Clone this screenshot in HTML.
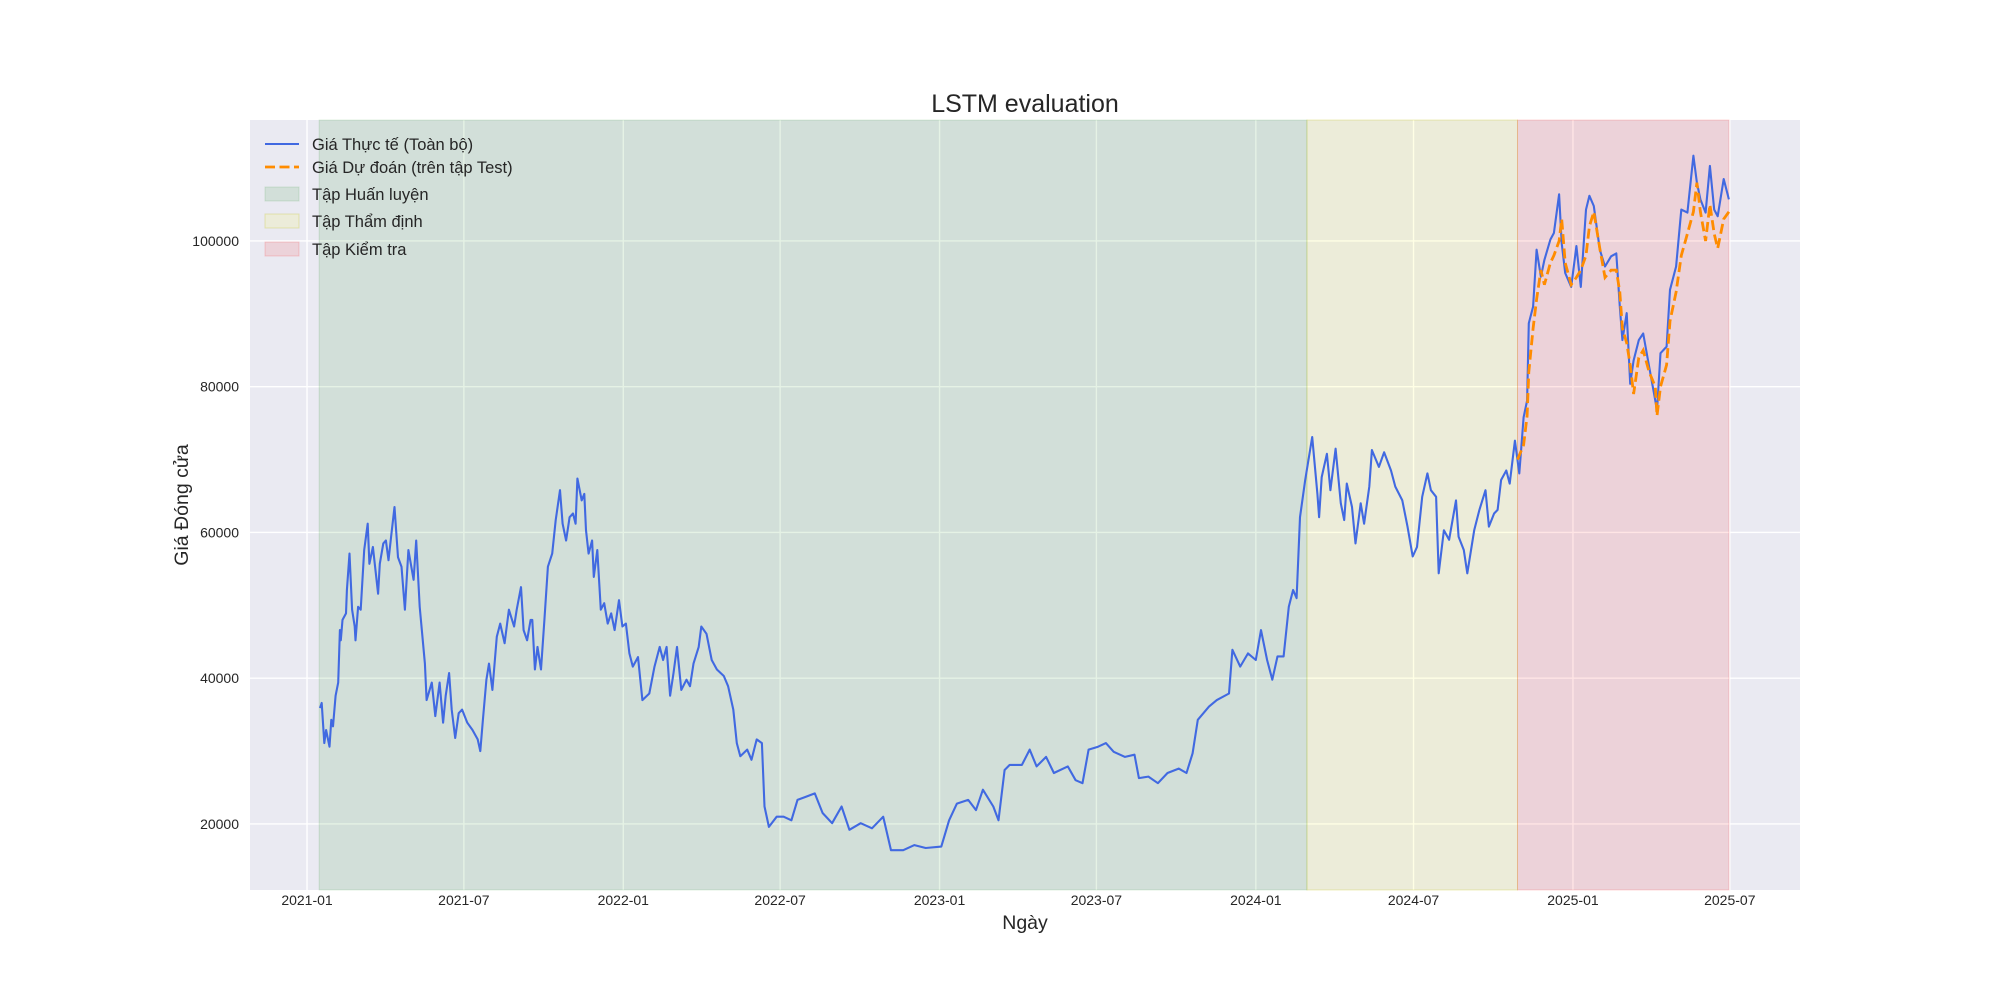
<!DOCTYPE html>
<html><head><meta charset="utf-8"><style>
html,body{margin:0;padding:0;background:#fff;}
svg{display:block;font-family:"Liberation Sans","DejaVu Sans",sans-serif;}
</style></head><body>
<svg id="chart" width="2000" height="1000" viewBox="0 0 2000 1000" xmlns="http://www.w3.org/2000/svg">
<rect x="0" y="0" width="2000" height="1000" fill="#ffffff"/>
<g id="plot"></g>
</svg>
<script>
// ---- data (days since 2021-01-01, price in thousands) ----
const actualDays = [15,17,20,22,26,28,30,33,36,38,39,41,45,46,49,52,55,56,59,62,66,70,72,76,82,84,88,91,94,97,101,105,109,113,117,123,126,130,136,138,144,148,153,157,160,164,167,171,175,179,185,191,197,200,203,207,210,214,219,223,228,233,239,242,247,250,254,258,260,263,266,270,274,278,283,287,292,295,299,303,307,310,312,317,320,322,325,329,331,335,339,343,347,351,355,360,364,368,372,376,382,387,395,401,407,411,415,419,423,427,432,438,442,446,452,455,461,467,473,481,486,492,496,500,508,513,519,525,528,533,542,550,559,566,575,586,595,606,617,626,639,652,665,674,688,701,714,732,741,750,763,772,780,792,798,805,811,825,834,842,853,862,878,887,895,902,913,922,931,944,955,960,971,982,993,1006,1015,1022,1028,1041,1050,1064,1068,1077,1086,1095,1101,1108,1114,1120,1127,1133,1138,1142,1146,1152,1160,1166,1168,1171,1177,1181,1187,1193,1197,1200,1206,1210,1216,1220,1226,1229,1237,1243,1251,1256,1264,1270,1276,1281,1287,1293,1297,1303,1306,1312,1318,1326,1329,1335,1339,1347,1353,1360,1364,1370,1374,1378,1384,1388,1394,1399,1404,1408,1410,1415,1419,1424,1428,1435,1439,1445,1448,1452,1459,1465,1470,1476,1480,1485,1492,1498,1505,1511,1515,1518,1523,1527,1531,1537,1542,1549,1556,1558,1562,1569,1573,1580,1586,1593,1600,1604,1608,1614,1619,1624,1628,1635,1641];
const actualValues = [35.9,36.6,31.1,32.9,30.6,34.3,33.4,37.6,39.4,46.6,45.2,48,48.9,52.1,57.1,49.4,47.1,45.2,49.8,49.4,57.6,61.2,55.7,58,51.6,55.7,58.5,58.9,56.2,59.4,63.5,56.6,55.3,49.4,57.6,53.5,58.9,49.8,42,37,39.4,34.8,39.4,33.9,37.6,40.7,35.7,31.8,35.2,35.7,33.9,32.9,31.6,30,34.3,39.8,42,38.4,45.7,47.5,44.8,49.4,47.1,49.4,52.5,46.6,45.2,48,48,41.2,44.3,41.2,48,55.3,57.1,61.7,65.8,61.2,58.9,62.1,62.6,61.2,67.4,64.4,65.3,60.3,57.1,58.9,53.9,57.6,49.4,50.3,47.5,48.9,46.6,50.7,47.1,47.5,43.4,41.6,42.9,37,37.9,41.6,44.3,42.5,44.3,37.6,40.7,44.3,38.4,39.8,38.9,42,44.3,47.1,46.1,42.5,41.2,40.3,38.9,35.7,31.1,29.3,30.2,28.8,31.6,31.1,22.4,19.6,21,21,20.5,23.3,23.7,24.2,21.5,20.1,22.4,19.2,20.1,19.4,21,16.4,16.4,17.1,16.7,16.9,20.5,22.8,23.3,21.9,24.7,22.4,20.5,27.4,28.1,28.1,30.2,27.9,29.2,27,27.9,26,25.6,30.2,30.6,31.1,29.9,29.2,29.5,26.3,26.5,25.6,27,27.6,27,29.7,34.3,36.1,37,37.9,43.9,41.6,43.4,42.5,46.6,42.5,39.8,43,43,49.8,52.1,51,62.1,67.2,73.1,65.3,62.1,67.6,70.8,65.8,71.5,64,61.7,66.7,63.5,58.5,64,61.2,66.3,71.3,69,71,68.5,66.3,64.4,60.8,56.7,58,64.9,68.1,65.8,64.9,54.4,60.3,59,64.4,59.4,57.6,54.4,60.3,63.1,65.8,60.8,62.6,63.1,67.2,68.5,66.7,72.6,68.1,75.8,78.1,88.7,91,98.8,95.1,97.4,100.2,101.1,106.4,99.7,95.6,93.7,99.3,93.7,104.3,106.2,104.8,98.8,96.5,97.9,98.3,91,86.4,90.1,80.4,83.6,86.4,87.3,82.7,78.1,76.7,84.6,85.5,93.3,96.5,104.3,103.9,111.7,108,105.7,103.9,110.3,104.3,103.4,108.5,105.7];
const predDays = [1397,1404,1408,1410,1415,1419,1424,1428,1435,1439,1445,1448,1452,1459,1465,1470,1476,1480,1485,1492,1498,1505,1511,1515,1518,1523,1527,1531,1537,1542,1549,1556,1558,1562,1569,1573,1580,1586,1593,1600,1604,1608,1614,1619,1624,1628,1635,1641];
const predValues = [70,72,76,82,88,92,96,94,97,98,100,103,97,94,95,96,98,102,104,99,95,96,96,93,88,86,83,79,84,85,82,80,76,80,83,89,93,98,101,104,108,104,100,105,101,99,103,104];
const spanNames = ["Tập Huấn luyện","Tập Thẩm định","Tập Kiểm tra"];
const spanStarts = [14,1154,1397];
const spanEnds = [1154,1397,1641];
const xTickDays = [0,181,365,546,730,911,1095,1277,1461,1642];
const xTickLabels = ["2021-01","2021-07","2022-01","2022-07","2023-01","2023-07","2024-01","2024-07","2025-01","2025-07"];
const yTickValues = [20,40,60,80,100];
const yTickLabels = ["20000","40000","60000","80000","100000"];

// ---- layout ----
const L=250,R=1800,T=120,B=890;
const xMin=-65.8,xMax=1723,yMin=10.94,yMax=116.6;
const xs=d=>L+(d-xMin)/(xMax-xMin)*(R-L);
const ys=v=>B-(v-yMin)/(yMax-yMin)*(B-T);
const NS="http://www.w3.org/2000/svg";
const g=document.getElementById('plot');
function mk(tag,attrs,parent){const e=document.createElementNS(NS,tag);for(const k in attrs)e.setAttribute(k,attrs[k]);(parent||g).appendChild(e);return e;}

let e=mk('rect',{x:L,y:T,width:R-L,height:B-T,fill:'#eaeaf2'});



xTickDays.forEach((d,i)=>{
  const x=xs(d);
  let l=mk('line',{x1:x,x2:x,y1:T,y2:B,stroke:'#ffffff','stroke-width':1.4});
  
  
  let t=mk('text',{x:x,y:905,'font-size':14,'text-anchor':'middle',fill:'#262626'});
  t.textContent=xTickLabels[i];
  
  
});
yTickValues.forEach((v,i)=>{
  const y=ys(v);
  let l=mk('line',{x1:L,x2:R,y1:y,y2:y,stroke:'#ffffff','stroke-width':1.4});
  
  
  let t=mk('text',{x:239,y:y+5,'font-size':14,'text-anchor':'end',fill:'#262626'});
  t.textContent=yTickLabels[i];
  
  
});

const spanFill=['rgba(0,128,0,0.1)','rgba(255,255,0,0.1)','rgba(255,0,0,0.1)'];
const spanStroke=['rgba(0,128,0,0.12)','rgba(190,190,0,0.25)','rgba(255,0,0,0.15)'];
spanStarts.forEach((s,i)=>{
  let r=mk('rect',{x:xs(s),y:T,width:xs(spanEnds[i])-xs(s),height:B-T,fill:spanFill[i],stroke:spanStroke[i],'stroke-width':1});
  
  
});

const pts=(ds,vs)=>ds.map((d,i)=>xs(d).toFixed(1)+','+ys(vs[i]).toFixed(1)).join(' ');
let a=mk('polyline',{points:pts(actualDays,actualValues),fill:'none',stroke:'#4169e1','stroke-width':2.1,'stroke-linejoin':'round'});


let p=mk('polyline',{points:pts(predDays,predValues),fill:'none',stroke:'#ff8c00','stroke-width':2.8,'stroke-dasharray':'10 4.5'});



// legend
const legY=[144,167,194,221,249];
let l1=mk('line',{x1:265,x2:299,y1:legY[0],y2:legY[0],stroke:'#4169e1','stroke-width':2.1});


let l2=mk('line',{x1:265,x2:299,y1:legY[1],y2:legY[1],stroke:'#ff8c00','stroke-width':2.8,'stroke-dasharray':'10 4.5'});


spanNames.forEach((n,i)=>{
  let r=mk('rect',{x:265,y:legY[i+2]-7,width:34,height:14,fill:spanFill[i],stroke:spanStroke[i]});
  
  
});
const legLabels=["Giá Thực tế (Toàn bộ)","Giá Dự đoán (trên tập Test)"].concat(spanNames);
legLabels.forEach((n,i)=>{
  let t=mk('text',{x:312,y:legY[i]+6,'font-size':16.5,fill:'#262626'});
  t.textContent=n;
  
  
});

let tt=mk('text',{x:1025,y:112,'font-size':25,'text-anchor':'middle',fill:'#262626'});
tt.textContent='LSTM evaluation';


let xl=mk('text',{x:1025,y:929,'font-size':19.5,'text-anchor':'middle',fill:'#262626'});
xl.textContent='Ngày';


let yl=mk('text',{x:0,y:0,'font-size':19.5,'text-anchor':'middle',fill:'#262626',transform:'translate(188,505) rotate(-90)'});
yl.textContent='Giá Đóng cửa';


</script>
</body></html>
